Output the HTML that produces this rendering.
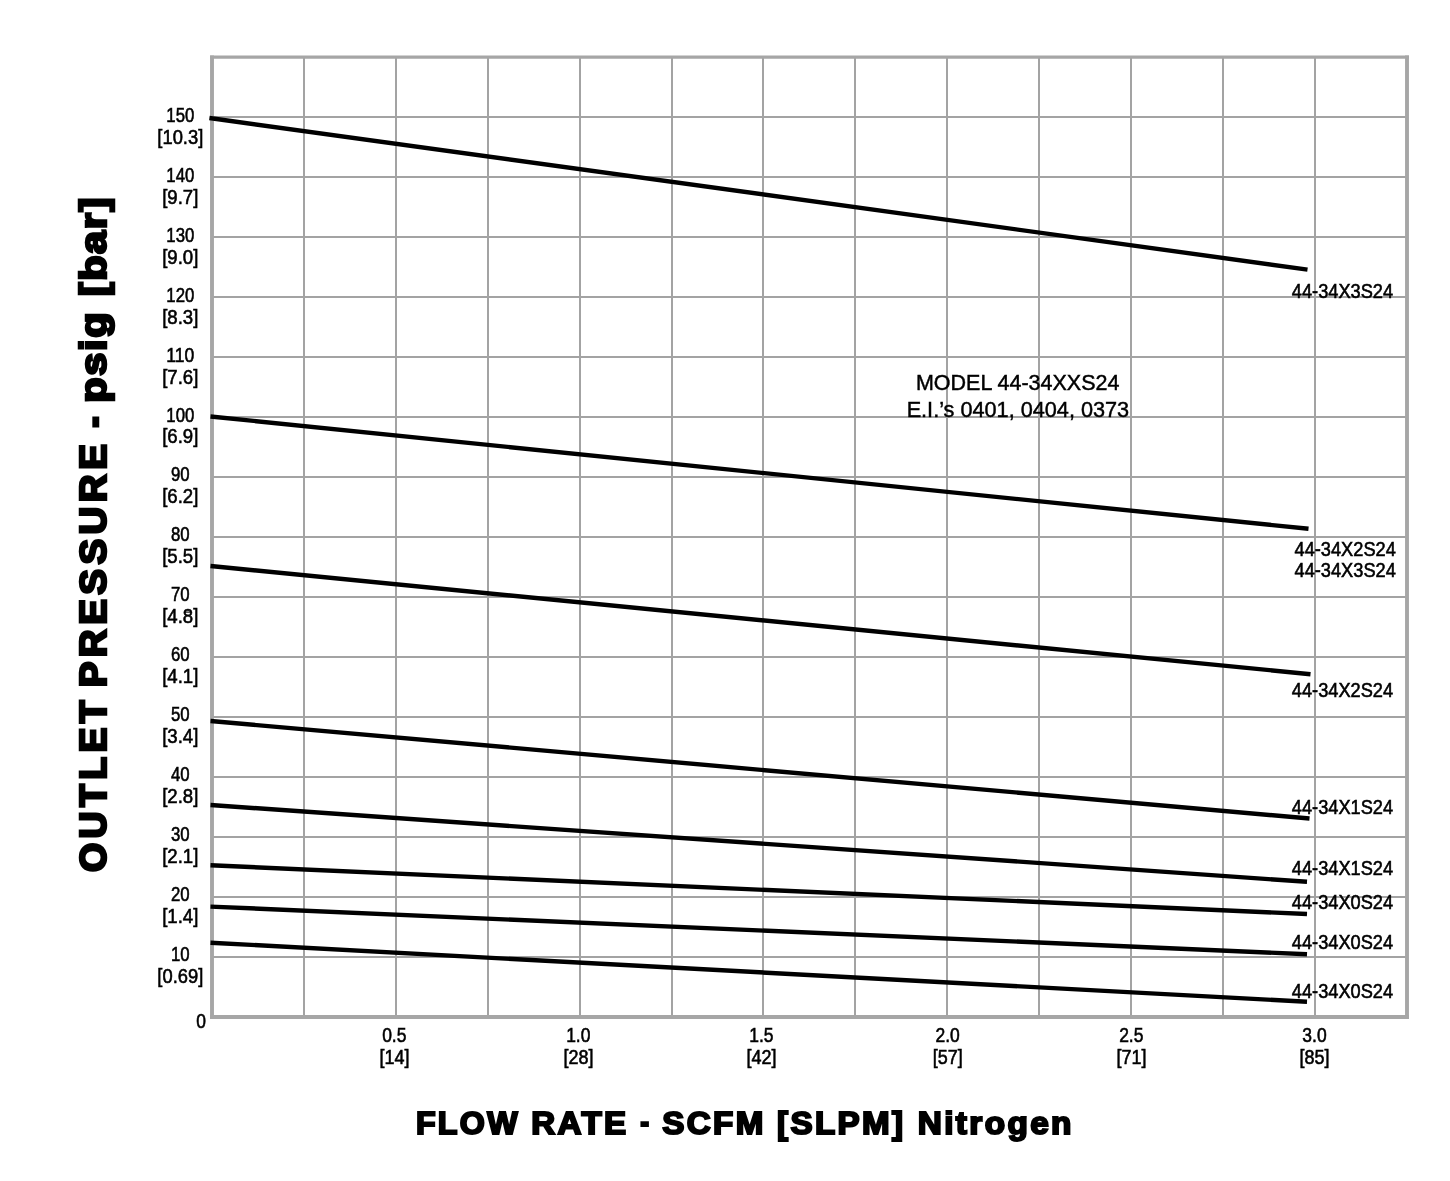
<!DOCTYPE html>
<html lang="en"><head><meta charset="utf-8"><title>Outlet Pressure vs Flow Rate - Model 44-34XXS24</title>
<style>html,body{margin:0;padding:0;background:#fff;}body{width:1450px;height:1181px;overflow:hidden;}svg{display:block;will-change:transform;}text{font-family:"Liberation Sans",sans-serif;fill:#000;}.t{font-size:20.8px;stroke:#000;stroke-width:0.6px;}.m{stroke:#000;stroke-width:0.45px;}.h{font-weight:bold;stroke:#000;stroke-linejoin:miter;stroke-miterlimit:2.5;}</style></head><body>
<svg width="1450" height="1181" viewBox="0 0 1450 1181">
<rect x="0" y="0" width="1450" height="1181" fill="#fff"/>
<g stroke="#a3a3a3" stroke-width="2" fill="none">
<line x1="304.0" y1="57.0" x2="304.0" y2="1017.0"/>
<line x1="396.0" y1="57.0" x2="396.0" y2="1017.0"/>
<line x1="488.0" y1="57.0" x2="488.0" y2="1017.0"/>
<line x1="580.0" y1="57.0" x2="580.0" y2="1017.0"/>
<line x1="672.0" y1="57.0" x2="672.0" y2="1017.0"/>
<line x1="763.0" y1="57.0" x2="763.0" y2="1017.0"/>
<line x1="855.0" y1="57.0" x2="855.0" y2="1017.0"/>
<line x1="947.0" y1="57.0" x2="947.0" y2="1017.0"/>
<line x1="1039.0" y1="57.0" x2="1039.0" y2="1017.0"/>
<line x1="1131.0" y1="57.0" x2="1131.0" y2="1017.0"/>
<line x1="1223.0" y1="57.0" x2="1223.0" y2="1017.0"/>
<line x1="1315.0" y1="57.0" x2="1315.0" y2="1017.0"/>
<line x1="212.0" y1="957.0" x2="1407.0" y2="957.0"/>
<line x1="212.0" y1="897.0" x2="1407.0" y2="897.0"/>
<line x1="212.0" y1="837.0" x2="1407.0" y2="837.0"/>
<line x1="212.0" y1="777.0" x2="1407.0" y2="777.0"/>
<line x1="212.0" y1="717.0" x2="1407.0" y2="717.0"/>
<line x1="212.0" y1="657.0" x2="1407.0" y2="657.0"/>
<line x1="212.0" y1="597.0" x2="1407.0" y2="597.0"/>
<line x1="212.0" y1="537.0" x2="1407.0" y2="537.0"/>
<line x1="212.0" y1="477.0" x2="1407.0" y2="477.0"/>
<line x1="212.0" y1="417.0" x2="1407.0" y2="417.0"/>
<line x1="212.0" y1="357.0" x2="1407.0" y2="357.0"/>
<line x1="212.0" y1="297.0" x2="1407.0" y2="297.0"/>
<line x1="212.0" y1="237.0" x2="1407.0" y2="237.0"/>
<line x1="212.0" y1="177.0" x2="1407.0" y2="177.0"/>
<line x1="212.0" y1="117.0" x2="1407.0" y2="117.0"/>
</g>
<g stroke="#a6a6a6" fill="none" stroke-linecap="butt">
<line x1="212.0" y1="55.4" x2="212.0" y2="1018.9" stroke-width="3.9"/>
<line x1="1407.0" y1="55.4" x2="1407.0" y2="1018.9" stroke-width="3.9"/>
<line x1="210.1" y1="57.1" x2="1409.0" y2="57.1" stroke-width="3.4"/>
<line x1="210.1" y1="1017.0" x2="1409.0" y2="1017.0" stroke-width="3.8"/>
</g>
<g stroke="#000" stroke-width="4.4" fill="none" stroke-linecap="butt">
<line x1="209.4" y1="118.0" x2="1307.5" y2="269.6"/>
<line x1="210.5" y1="416.5" x2="1308.5" y2="528.8"/>
<line x1="210.5" y1="566.0" x2="1310.5" y2="674.2"/>
<line x1="210.5" y1="721.0" x2="1309.5" y2="818.5"/>
<line x1="210.5" y1="805.0" x2="1307.0" y2="881.8"/>
<line x1="210.5" y1="865.3" x2="1307.0" y2="914.0"/>
<line x1="210.5" y1="906.6" x2="1307.0" y2="954.2"/>
<line x1="210.5" y1="942.7" x2="1307.0" y2="1001.8"/>
</g>
<text class="t" x="180.3" y="960.6" text-anchor="middle" textLength="18.7" lengthAdjust="spacingAndGlyphs">10</text>
<text class="t" x="180.3" y="982.5" text-anchor="middle" textLength="45.9" lengthAdjust="spacingAndGlyphs">[0.69]</text>
<text class="t" x="180.3" y="900.7" text-anchor="middle" textLength="18.7" lengthAdjust="spacingAndGlyphs">20</text>
<text class="t" x="180.3" y="922.6" text-anchor="middle" textLength="36.2" lengthAdjust="spacingAndGlyphs">[1.4]</text>
<text class="t" x="180.3" y="840.8" text-anchor="middle" textLength="18.7" lengthAdjust="spacingAndGlyphs">30</text>
<text class="t" x="180.3" y="862.7" text-anchor="middle" textLength="36.2" lengthAdjust="spacingAndGlyphs">[2.1]</text>
<text class="t" x="180.3" y="780.9" text-anchor="middle" textLength="18.7" lengthAdjust="spacingAndGlyphs">40</text>
<text class="t" x="180.3" y="802.8" text-anchor="middle" textLength="36.2" lengthAdjust="spacingAndGlyphs">[2.8]</text>
<text class="t" x="180.3" y="721.0" text-anchor="middle" textLength="18.7" lengthAdjust="spacingAndGlyphs">50</text>
<text class="t" x="180.3" y="742.9" text-anchor="middle" textLength="36.2" lengthAdjust="spacingAndGlyphs">[3.4]</text>
<text class="t" x="180.3" y="661.1" text-anchor="middle" textLength="18.7" lengthAdjust="spacingAndGlyphs">60</text>
<text class="t" x="180.3" y="683.0" text-anchor="middle" textLength="36.2" lengthAdjust="spacingAndGlyphs">[4.1]</text>
<text class="t" x="180.3" y="601.2" text-anchor="middle" textLength="18.7" lengthAdjust="spacingAndGlyphs">70</text>
<text class="t" x="180.3" y="623.1" text-anchor="middle" textLength="36.2" lengthAdjust="spacingAndGlyphs">[4.8]</text>
<text class="t" x="180.3" y="541.3" text-anchor="middle" textLength="18.7" lengthAdjust="spacingAndGlyphs">80</text>
<text class="t" x="180.3" y="563.2" text-anchor="middle" textLength="36.2" lengthAdjust="spacingAndGlyphs">[5.5]</text>
<text class="t" x="180.3" y="481.4" text-anchor="middle" textLength="18.7" lengthAdjust="spacingAndGlyphs">90</text>
<text class="t" x="180.3" y="503.3" text-anchor="middle" textLength="36.2" lengthAdjust="spacingAndGlyphs">[6.2]</text>
<text class="t" x="180.3" y="421.5" text-anchor="middle" textLength="28.0" lengthAdjust="spacingAndGlyphs">100</text>
<text class="t" x="180.3" y="443.4" text-anchor="middle" textLength="36.2" lengthAdjust="spacingAndGlyphs">[6.9]</text>
<text class="t" x="180.3" y="361.6" text-anchor="middle" textLength="28.0" lengthAdjust="spacingAndGlyphs">110</text>
<text class="t" x="180.3" y="383.5" text-anchor="middle" textLength="36.2" lengthAdjust="spacingAndGlyphs">[7.6]</text>
<text class="t" x="180.3" y="301.7" text-anchor="middle" textLength="28.0" lengthAdjust="spacingAndGlyphs">120</text>
<text class="t" x="180.3" y="323.6" text-anchor="middle" textLength="36.2" lengthAdjust="spacingAndGlyphs">[8.3]</text>
<text class="t" x="180.3" y="241.8" text-anchor="middle" textLength="28.0" lengthAdjust="spacingAndGlyphs">130</text>
<text class="t" x="180.3" y="263.7" text-anchor="middle" textLength="36.2" lengthAdjust="spacingAndGlyphs">[9.0]</text>
<text class="t" x="180.3" y="181.9" text-anchor="middle" textLength="28.0" lengthAdjust="spacingAndGlyphs">140</text>
<text class="t" x="180.3" y="203.8" text-anchor="middle" textLength="36.2" lengthAdjust="spacingAndGlyphs">[9.7]</text>
<text class="t" x="180.3" y="122.0" text-anchor="middle" textLength="28.0" lengthAdjust="spacingAndGlyphs">150</text>
<text class="t" x="180.3" y="143.9" text-anchor="middle" textLength="45.9" lengthAdjust="spacingAndGlyphs">[10.3]</text>
<line x1="184.8" y1="612.1" x2="191.4" y2="612.1" stroke="#000" stroke-width="1.1"/>
<text class="t" x="201.1" y="1027.7" text-anchor="middle" textLength="9.7" lengthAdjust="spacingAndGlyphs">0</text>
<text class="t" x="394.3" y="1041.5" text-anchor="middle" textLength="24.3" lengthAdjust="spacingAndGlyphs">0.5</text>
<text class="t" x="394.4" y="1063.5" text-anchor="middle" textLength="30.0" lengthAdjust="spacingAndGlyphs">[14]</text>
<text class="t" x="578.3" y="1041.5" text-anchor="middle" textLength="24.3" lengthAdjust="spacingAndGlyphs">1.0</text>
<text class="t" x="578.4" y="1063.5" text-anchor="middle" textLength="30.0" lengthAdjust="spacingAndGlyphs">[28]</text>
<text class="t" x="761.4" y="1041.5" text-anchor="middle" textLength="24.3" lengthAdjust="spacingAndGlyphs">1.5</text>
<text class="t" x="761.5" y="1063.5" text-anchor="middle" textLength="30.0" lengthAdjust="spacingAndGlyphs">[42]</text>
<text class="t" x="947.6" y="1041.5" text-anchor="middle" textLength="24.3" lengthAdjust="spacingAndGlyphs">2.0</text>
<text class="t" x="947.7" y="1063.5" text-anchor="middle" textLength="30.0" lengthAdjust="spacingAndGlyphs">[57]</text>
<text class="t" x="1131.3" y="1041.5" text-anchor="middle" textLength="24.3" lengthAdjust="spacingAndGlyphs">2.5</text>
<text class="t" x="1131.4" y="1063.5" text-anchor="middle" textLength="30.0" lengthAdjust="spacingAndGlyphs">[71]</text>
<text class="t" x="1314.5" y="1041.5" text-anchor="middle" textLength="24.3" lengthAdjust="spacingAndGlyphs">3.0</text>
<text class="t" x="1314.6" y="1063.5" text-anchor="middle" textLength="30.0" lengthAdjust="spacingAndGlyphs">[85]</text>
<text class="t" x="1291.8" y="297.6" text-anchor="start" textLength="101.3" lengthAdjust="spacingAndGlyphs">44-34X3S24</text>
<text class="t" x="1294.5" y="555.5" text-anchor="start" textLength="101.3" lengthAdjust="spacingAndGlyphs">44-34X2S24</text>
<text class="t" x="1294.5" y="576.6" text-anchor="start" textLength="101.3" lengthAdjust="spacingAndGlyphs">44-34X3S24</text>
<text class="t" x="1291.8" y="697.3" text-anchor="start" textLength="101.3" lengthAdjust="spacingAndGlyphs">44-34X2S24</text>
<text class="t" x="1291.8" y="813.6" text-anchor="start" textLength="101.3" lengthAdjust="spacingAndGlyphs">44-34X1S24</text>
<text class="t" x="1291.8" y="875.4" text-anchor="start" textLength="101.3" lengthAdjust="spacingAndGlyphs">44-34X1S24</text>
<text class="t" x="1291.8" y="908.6" text-anchor="start" textLength="101.3" lengthAdjust="spacingAndGlyphs">44-34X0S24</text>
<text class="t" x="1291.8" y="948.5" text-anchor="start" textLength="101.3" lengthAdjust="spacingAndGlyphs">44-34X0S24</text>
<text class="t" x="1291.8" y="997.6" text-anchor="start" textLength="101.3" lengthAdjust="spacingAndGlyphs">44-34X0S24</text>
<text class="m" x="1017.7" y="389.8" text-anchor="middle" textLength="203.5" lengthAdjust="spacingAndGlyphs" font-size="21.6">MODEL 44-34XXS24</text>
<text class="m" x="1017.9" y="416.9" text-anchor="middle" textLength="222.5" lengthAdjust="spacingAndGlyphs" font-size="21.6">E.I.’s 0401, 0404, 0373</text>
<text class="h" x="415.9" y="1133.5" text-anchor="start" textLength="104.0" lengthAdjust="spacingAndGlyphs" font-size="30.8" letter-spacing="2.2" stroke-width="2.0">FLOW</text>
<text class="h" x="531.3" y="1133.5" text-anchor="start" textLength="97.2" lengthAdjust="spacingAndGlyphs" font-size="30.8" letter-spacing="2.2" stroke-width="2.0">RATE</text>
<text class="h" x="640.3" y="1131.8" text-anchor="start" textLength="10.8" lengthAdjust="spacingAndGlyphs" font-size="30.8" letter-spacing="2.2" stroke-width="2.0">-</text>
<text class="h" x="662.3" y="1133.5" text-anchor="start" textLength="103.4" lengthAdjust="spacingAndGlyphs" font-size="30.8" letter-spacing="2.2" stroke-width="2.0">SCFM</text>
<text class="h" x="777.1" y="1133.5" text-anchor="start" textLength="128.3" lengthAdjust="spacingAndGlyphs" font-size="30.8" letter-spacing="2.2" stroke-width="2.0">[SLPM]</text>
<text class="h" x="917.7" y="1133.5" text-anchor="start" textLength="156.2" lengthAdjust="spacingAndGlyphs" font-size="30.8" letter-spacing="2.2" stroke-width="2.0">Nitrogen</text>
<g transform="translate(106.1,0) rotate(-90)">
<text class="h" x="-872.0" y="0.0" text-anchor="start" textLength="176.1" lengthAdjust="spacingAndGlyphs" font-size="36.4" letter-spacing="4.2" stroke-width="2.5">OUTLET</text>
<text class="h" x="-687.3" y="0.0" text-anchor="start" textLength="247.6" lengthAdjust="spacingAndGlyphs" font-size="36.4" letter-spacing="4.2" stroke-width="2.5">PRESSURE</text>
<text class="h" x="-427.7" y="-0.9" text-anchor="start" textLength="12.7" lengthAdjust="spacingAndGlyphs" font-size="36.4" letter-spacing="1.4" stroke-width="2.5">-</text>
<text class="h" x="-402.7" y="0.0" text-anchor="start" textLength="91.8" lengthAdjust="spacingAndGlyphs" font-size="36.4" letter-spacing="1.4" stroke-width="2.5">psig</text>
<text class="h" x="-296.2" y="0.0" text-anchor="start" textLength="100.0" lengthAdjust="spacingAndGlyphs" font-size="36.4" letter-spacing="1.4" stroke-width="2.5">[bar]</text>
</g>
</svg></body></html>
